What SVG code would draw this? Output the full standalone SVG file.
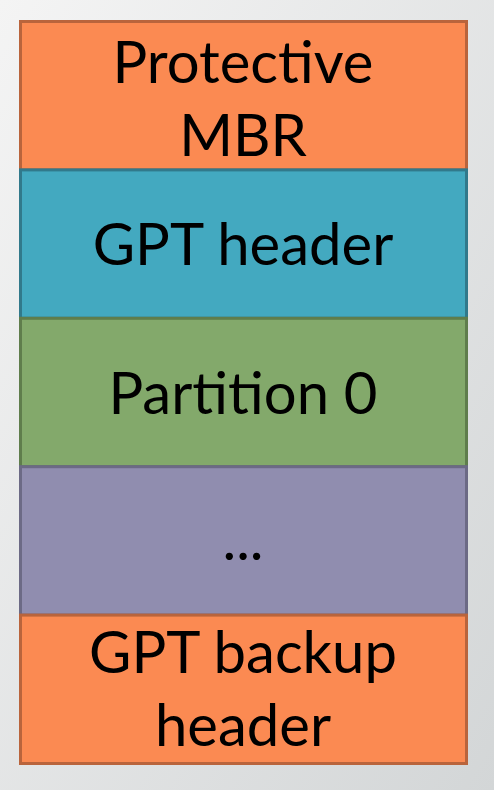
<svg xmlns="http://www.w3.org/2000/svg" width="494" height="790" viewBox="0 0 494 790">
<defs>
<linearGradient id="bg" x1="0" y1="0" x2="1" y2="1">
<stop offset="0" stop-color="#f4f4f4"/>
<stop offset="1" stop-color="#d3d6d7"/>
</linearGradient>
</defs>
<style>
.t{font-family:Lato,"Open Sans",sans-serif;font-size:58px;fill:#000;text-anchor:middle}
.o{fill:#fb8a52;stroke:#b9643c}
.b{fill:#43a9c0;stroke:#31798b}
.g{fill:#83a96b;stroke:#5f7d4c}
.p{fill:#908daf;stroke:#6c6a85}
rect.s{stroke-width:3}
</style>
<rect width="494" height="790" fill="url(#bg)"/>
<g id="protective-mbr">
<rect class="s o" x="20.5" y="21.5" width="446" height="148.4"/>
<text class="t" x="243" y="83">Protective</text>
<text class="t" x="243" y="156">MBR</text>
</g>
<g id="gpt-header">
<rect class="s b" x="20.5" y="169.9" width="446" height="148.4"/>
<text class="t" x="243" y="265">GPT header</text>
</g>
<g id="partition-0">
<rect class="s g" x="20.5" y="318.3" width="446" height="148.4"/>
<text class="t" x="243" y="414">Partition 0</text>
</g>
<g id="ellipsis">
<rect class="s p" x="20.5" y="466.7" width="446" height="148.4"/>
<text class="t" x="243" y="560">...</text>
</g>
<g id="gpt-backup-header">
<rect class="s o" x="20.5" y="615.1" width="446" height="148.4"/>
<text class="t" x="243" y="673">GPT backup</text>
<text class="t" x="243" y="746">header</text>
</g>
<g id="connectors"/>
</svg>
